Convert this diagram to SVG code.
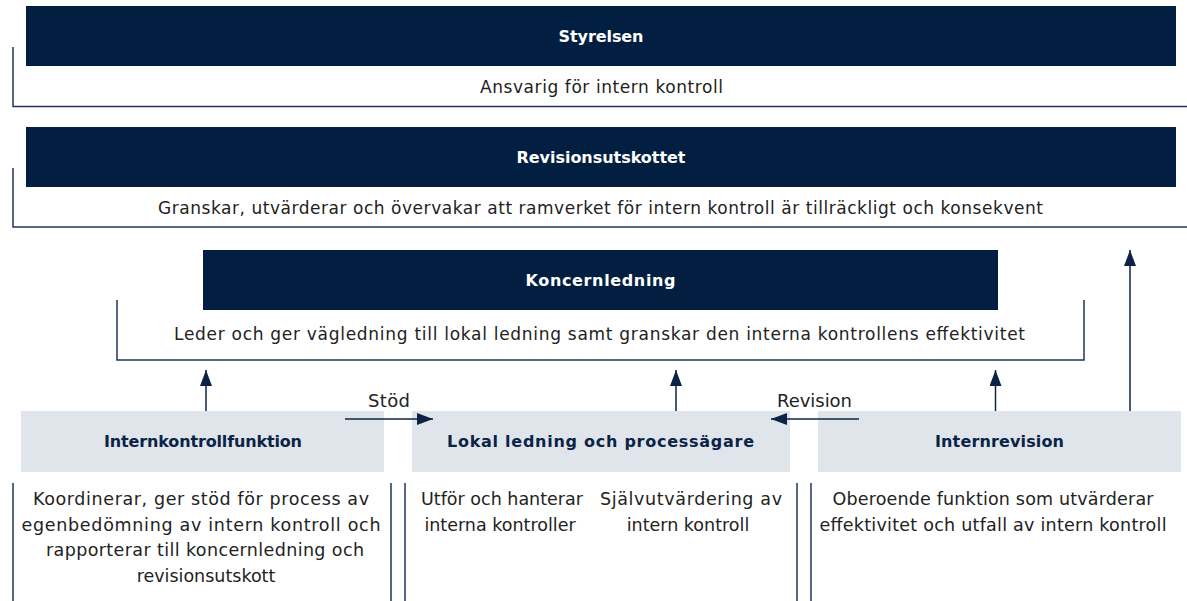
<svg xmlns="http://www.w3.org/2000/svg" width="1187" height="601" viewBox="0 0 1187 601">
<defs>
<marker id="ah" markerUnits="userSpaceOnUse" markerWidth="16" markerHeight="12" refX="16" refY="6" orient="auto">
<path d="M0,0 L16,6 L0,12 z" fill="#0b2446"/>
</marker>
<style>
.hdr{fill:#021f42}
.lbl{fill:#dfe5ea}
.ht{font-family:"DejaVu Sans","Liberation Sans",sans-serif;font-weight:bold;font-size:16px;fill:#ffffff;text-anchor:middle}
.bt{font-family:"DejaVu Sans","Liberation Sans",sans-serif;font-weight:bold;font-size:16px;fill:#0b2446;text-anchor:middle}
.tx{font-family:"DejaVu Sans","Liberation Sans",sans-serif;font-size:17px;fill:#222222;text-anchor:middle}
.ds{font-family:"DejaVu Sans","Liberation Sans",sans-serif;font-size:17.5px;fill:#222222;text-anchor:middle}
.cl{font-family:"DejaVu Sans","Liberation Sans",sans-serif;font-size:18px;fill:#222222;text-anchor:middle}
.ln{stroke:#20345a;stroke-width:1.5;fill:none}
.ar{stroke:#0b2446;stroke-width:1.5;fill:none;marker-end:url(#ah)}
</style>
</defs>
<rect width="1187" height="601" fill="#ffffff"/>

<g id="styrelsen">
<rect class="hdr" x="26" y="6" width="1150" height="60"/>
<text class="ht" x="601" y="41.5" textLength="85">Styrelsen</text>
<path class="ln" d="M13,47 V106.5 H1187"/>
<text class="tx" x="601.5" y="92.5" textLength="243">Ansvarig för intern kontroll</text>
</g>

<g id="revisionsutskottet">
<rect class="hdr" x="26" y="127" width="1150" height="60"/>
<text class="ht" x="601" y="162.5" textLength="169">Revisionsutskottet</text>
<path class="ln" d="M13,168 V227 H1187"/>
<text class="tx" x="600.5" y="213.5" textLength="885">Granskar, utvärderar och övervakar att ramverket för intern kontroll är tillräckligt och konsekvent</text>
</g>

<g id="koncernledning">
<rect class="hdr" x="203" y="250" width="795" height="60"/>
<text class="ht" x="600.5" y="286" textLength="150">Koncernledning</text>
<path class="ln" d="M117,300 V360 H1084 V300"/>
<text class="tx" x="599.5" y="339.5" textLength="851">Leder och ger vägledning till lokal ledning samt granskar den interna kontrollens effektivitet</text>
</g>

<g id="internkontrollfunktion">
<rect class="lbl" x="21" y="411" width="363" height="61"/>
<text class="bt" x="203" y="447" textLength="198">Internkontrollfunktion</text>
<path class="ln" d="M13,483 V601 M391,483 V601"/>
<text class="ds" x="201" y="504.5" textLength="336">Koordinerar, ger stöd för process av</text>
<text class="ds" x="201" y="530.5" textLength="359">egenbedömning av intern kontroll och</text>
<text class="ds" x="205" y="556" textLength="318">rapporterar till koncernledning och</text>
<text class="ds" x="206" y="581.5">revisionsutskott</text>
</g>

<g id="lokal-ledning">
<rect class="lbl" x="412" y="411" width="378" height="61"/>
<text class="bt" x="600.5" y="447" textLength="307">Lokal ledning och processägare</text>
<path class="ln" d="M405,483 V601 M797,483 V601"/>
<text class="ds" x="502" y="504.5">Utför och hanterar</text>
<text class="ds" x="500" y="530.5">interna kontroller</text>
<text class="ds" x="691" y="504.5" textLength="182">Självutvärdering av</text>
<text class="ds" x="688" y="530.5">intern kontroll</text>
</g>

<g id="internrevision">
<rect class="lbl" x="818" y="411" width="363" height="61"/>
<text class="bt" x="999.5" y="447" textLength="129">Internrevision</text>
<path class="ln" d="M811,483 V601"/>
<text class="ds" x="993" y="504.5" textLength="321">Oberoende funktion som utvärderar</text>
<text class="ds" x="993" y="530.5" textLength="347">effektivitet och utfall av intern kontroll</text>
</g>

<g id="connectors">
<line class="ar" x1="206" y1="411" x2="206" y2="370"/>
<line class="ar" x1="676" y1="411" x2="676" y2="370"/>
<line class="ar" x1="995.5" y1="411" x2="995.5" y2="370"/>
<line class="ar" x1="1130" y1="411" x2="1130" y2="250"/>
<line class="ar" x1="345" y1="419" x2="433" y2="419"/>
<line class="ar" x1="859" y1="419" x2="771" y2="419"/>
<text class="cl" x="389" y="407" textLength="42">Stöd</text>
<text class="cl" x="814.5" y="407" textLength="75">Revision</text>
</g>
</svg>
